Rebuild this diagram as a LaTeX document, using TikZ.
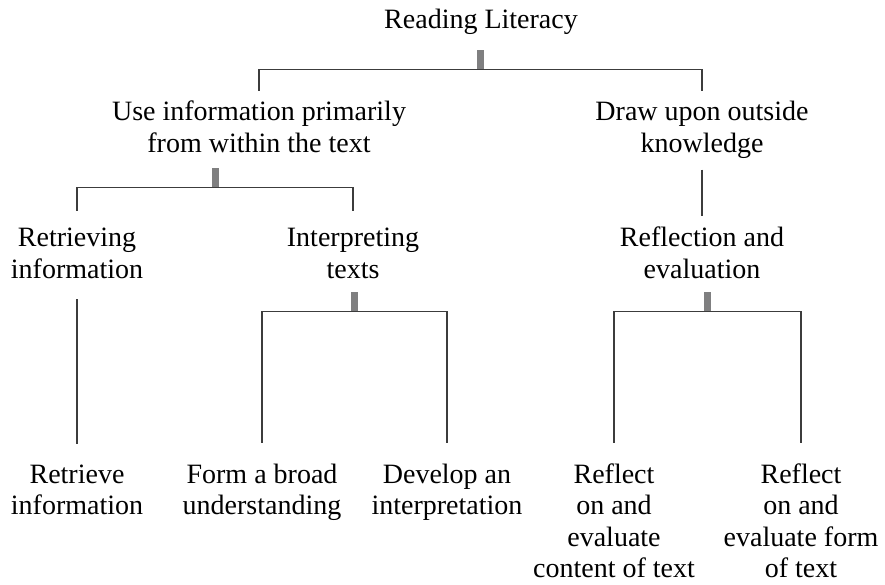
\documentclass[tikz,border=0pt]{standalone}
\usepackage{fontspec}
\setmainfont{Liberation Serif}
\usetikzlibrary{positioning, calc}
\definecolor{linegray}{HTML}{3C3C3C}
\definecolor{bargray}{HTML}{7F7F80}

\begin{document}
\begin{tikzpicture}[
    x=1pt, y=1pt,
    skill/.style={font=\fontsize{28}{31.5}\selectfont, align=center, inner sep=0pt, anchor=base},
    stem/.style={draw=bargray, line width=7pt},
    link/.style={draw=linegray, line width=1.2pt}
]
    \useasboundingbox (0,0) rectangle (885,-585);

    % skill nodes, top to bottom (placed on the baseline of their last line)
    \node[skill] (lit) at (481,-29) {Reading Literacy};
    \node[skill] (within) at (259,-152.5) {Use information primarily\\from within the text};
    \node[skill] (outside) at (702,-152.5) {Draw upon outside\\knowledge};
    \node[skill] (retrieving) at (77,-278) {Retrieving\\information};
    \node[skill] (interpreting) at (353,-278) {Interpreting\\texts};
    \node[skill] (reflection) at (702,-278) {Reflection and\\evaluation};
    \node[skill] (retrieve) at (77,-514.5) {Retrieve\\information};
    \node[skill] (broad) at (262,-514.5) {Form a broad\\understanding};
    \node[skill] (develop) at (447,-514.5) {Develop an\\interpretation};
    \node[skill] (content) at (614,-577.5) {Reflect\\on and\\evaluate\\content of text};
    \node[skill] (form) at (801,-577.5) {Reflect\\on and\\evaluate form\\of text};

    % bracket under Reading Literacy
    \coordinate (j1) at ($(within)!0.5!(outside)$);
    \draw[stem] ([yshift=-15pt]lit.south -| j1) -- ++(0,-19) coordinate (b1);
    \draw[link] (within.north |- b1) -- (outside.north |- b1);
    \draw[link] (within.north |- b1) -- ([yshift=10pt]within.north);
    \draw[link] (outside.north |- b1) -- ([yshift=10pt]outside.north);

    % bracket under the text-based branch
    \coordinate (j2) at ($(retrieving)!0.5!(interpreting)$);
    \draw[stem] ([yshift=-15.5pt]within.south -| j2) -- ++(0,-19) coordinate (b2);
    \draw[link] (retrieving.north |- b2) -- (interpreting.north |- b2);
    \draw[link] (retrieving.north |- b2) -- ([yshift=17pt]retrieving.north);
    \draw[link] (interpreting.north |- b2) -- ([yshift=17pt]interpreting.north);

    % single links
    \draw[link] ([yshift=-11pt]outside.south) -- ([yshift=11pt]reflection.north);
    \draw[link] ([yshift=-21pt]retrieving.south) -- ([yshift=20pt]retrieve.north);

    % bracket under Interpreting texts
    \coordinate (j3) at ($(broad)!0.5!(develop)$);
    \draw[stem] ([yshift=-14pt]interpreting.south -| j3) -- ++(0,-19) coordinate (b3);
    \draw[link] (broad.north |- b3) -- (develop.north |- b3);
    \draw[link] (broad.north |- b3) -- ([yshift=20pt]broad.north);
    \draw[link] (develop.north |- b3) -- ([yshift=20pt]develop.north);

    % bracket under Reflection and evaluation
    \coordinate (j4) at ($(content)!0.5!(form)$);
    \draw[stem] ([yshift=-14pt]reflection.south -| j4) -- ++(0,-19) coordinate (b4);
    \draw[link] (content.north |- b4) -- (form.north |- b4);
    \draw[link] (content.north |- b4) -- ([yshift=20pt]content.north);
    \draw[link] (form.north |- b4) -- ([yshift=20pt]form.north);

\end{tikzpicture}
\end{document}
